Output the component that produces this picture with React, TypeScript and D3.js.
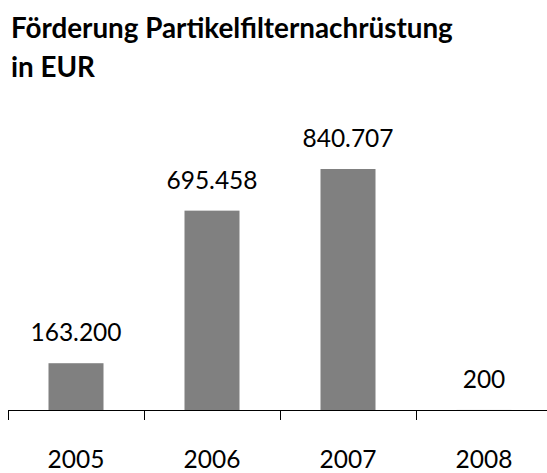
import React from "react";
import * as d3 from "d3";

const title1 = "Förderung Partikelfilternachrüstung";
const title2 = "in EUR";
const years = ["2005", "2006", "2007", "2008"];
const values = [163200, 695458, 840707, 200];
const valueLabels = ["163.200", "695.458", "840.707", "200"];

export default function App() {
  const W = 547, H = 473;
  const xb = d3.scaleBand<string>().domain(years).range([8, 552]);
  const y = d3.scaleLinear().domain([0, 900000]).range([410, 152]);
  const font = "Lato, 'Noto Sans', sans-serif";
  return (
    <svg width={W} height={H} style={{ position: "absolute", left: 0, top: 0 }}>
      <rect width={W} height={H} fill="#fff" />
      <text x={11} y={38} fontFamily={font} fontWeight="bold" fontSize={27.8} fill="#000">{title1}</text>
      <text x={11} y={77} fontFamily={font} fontWeight="bold" fontSize={27.8} fill="#000">{title2}</text>
      {years.map((yr, i) => {
        const cx = xb(yr)! + xb.bandwidth() / 2;
        const bw = 55;
        return (
          <g key={yr}>
            <rect x={cx - bw / 2} y={y(values[i])} width={bw} height={410 - y(values[i])} fill="#808080" />
            <text x={cx} y={y(values[i]) - 22} textAnchor="middle" fontFamily={font} fontSize={24.5} fill="#000">{valueLabels[i]}</text>
            <text x={cx} y={468} textAnchor="middle" fontFamily={font} fontSize={24.5} fill="#000">{yr}</text>
          </g>
        );
      })}
      <line x1={8} x2={W} y1={410.5} y2={410.5} stroke="#000" strokeWidth={1} />
      {years.map((yr) => (
        <line key={"t" + yr} x1={xb(yr)! + 0.5} x2={xb(yr)! + 0.5} y1={410} y2={420} stroke="#000" strokeWidth={1} />
      ))}
    </svg>
  );
}
